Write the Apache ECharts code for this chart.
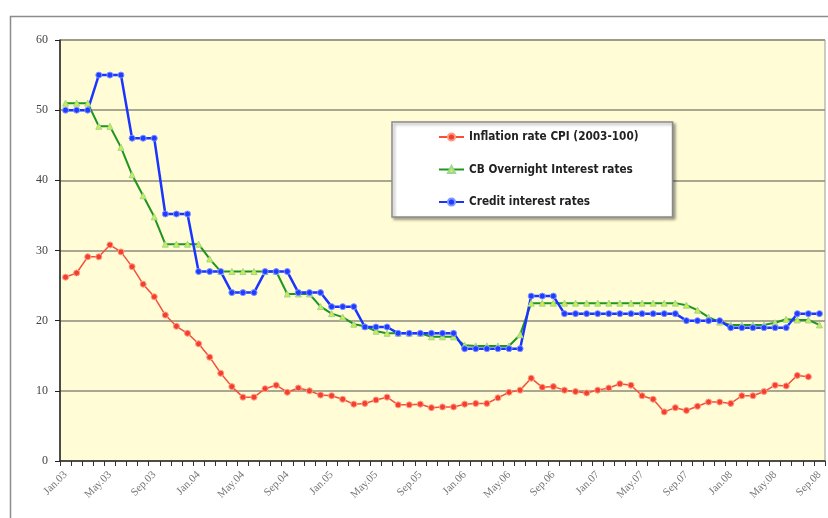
<!DOCTYPE html>
<html>
<head>
<meta charset="utf-8">
<script src="https://cdn.jsdelivr.net/npm/echarts@6/dist/echarts.min.js"></script>
<style>
  html, body { margin: 0; padding: 0; background: #ffffff; }
  #main { width: 828px; height: 518px; }
</style>
</head>
<body>
<div id="main"></div>
<script>
// months Jan 03 .. Sep 08
const monthNames = ["Jan", "Feb", "Mar", "Apr", "May", "Jun", "Jul", "Aug", "Sep", "Oct", "Nov", "Dec"];
const years = ["03", "04", "05", "06", "07", "08"];
const lastYearMonths = 9;

const inflationCpi = [
  26.2, 26.8, 29.1, 29.1, 30.8, 29.8, 27.7, 25.2, 23.4, 20.8,
  19.2, 18.2, 16.7, 14.8, 12.5, 10.6, 9.1, 9.1, 10.3, 10.8,
  9.8, 10.4, 10.0, 9.4, 9.3, 8.8, 8.1, 8.2, 8.7, 9.1,
  8.0, 8.0, 8.1, 7.6, 7.7, 7.7, 8.1, 8.2, 8.2, 9.0,
  9.8, 10.1, 11.8, 10.5, 10.6, 10.1, 9.9, 9.7, 10.1, 10.4,
  11.0, 10.8, 9.3, 8.8, 7.0, 7.6, 7.2, 7.8, 8.4, 8.4,
  8.2, 9.3, 9.3, 9.9, 10.8, 10.7, 12.2, 12.0, null
];
const cbOvernight = [
  51, 51, 51, 47.7, 47.7, 44.7, 40.8, 37.8, 34.8, 30.9,
  30.9, 30.9, 30.9, 28.8, 27, 27, 27, 27, 27, 27,
  23.8, 23.8, 23.8, 22, 21, 20.5, 19.5, 19.2, 18.5, 18.2,
  18.2, 18.2, 18.2, 17.7, 17.7, 17.7, 16.5, 16.4, 16.4, 16.4,
  16.4, 18, 22.5, 22.5, 22.5, 22.5, 22.5, 22.5, 22.5, 22.5,
  22.5, 22.5, 22.5, 22.5, 22.5, 22.5, 22.2, 21.5, 20.5, 19.8,
  19.4, 19.4, 19.4, 19.4, 19.7, 20.2, 20.1, 20.1, 19.4
];
const creditRates = [
  50, 50, 50, 55, 55, 55, 46, 46, 46, 35.2,
  35.2, 35.2, 27, 27, 27, 24, 24, 24, 27, 27,
  27, 24, 24, 24, 22, 22, 22, 19.1, 19.1, 19.1,
  18.2, 18.2, 18.2, 18.2, 18.2, 18.2, 16, 16, 16, 16,
  16, 16, 23.5, 23.5, 23.5, 21, 21, 21, 21, 21,
  21, 21, 21, 21, 21, 21, 20, 20, 20, 20,
  19, 19, 19, 19, 19, 19, 21, 21, 21
];

const categories = [];
years.forEach(function (y, yi) {
  const n = yi === years.length - 1 ? lastYearMonths : 12;
  for (let m = 0; m < n; m++) {
    categories.push(monthNames[m] + "." + y);
  }
});

const chart = echarts.init(document.getElementById("main"), null, { renderer: "canvas" });
chart.setOption({
  animation: false,
  backgroundColor: "#ffffff",
  graphic: [
    {
      type: "rect",
      left: 8,
      top: 14,
      shape: { width: 830, height: 520 },
      style: { fill: "none", stroke: "#8c8c8c", lineWidth: 1.5 },
      z: -1
    }
  ],
  grid: {
    left: 60,
    right: 3,
    top: 40,
    bottom: 57,
    show: true,
    backgroundColor: "#fffcd6",
    borderColor: "#9a9a9a",
    borderWidth: 1
  },
  legend: {
    orient: "vertical",
    left: 392,
    top: 122,
    padding: [9, 34, 9, 46],
    itemGap: 20.5,
    itemWidth: 25,
    itemHeight: 9,
    backgroundColor: "#ffffff",
    borderColor: "#8a8a8a",
    borderWidth: 1.5,
    shadowColor: "rgba(0,0,0,0.35)",
    shadowBlur: 3,
    shadowOffsetX: 2,
    shadowOffsetY: 2,
    textStyle: {
      fontFamily: "DejaVu Sans Condensed",
      fontWeight: "bold",
      fontSize: 11.7,
      color: "#222222"
    },
    data: ["Inflation rate CPI (2003-100)", "CB Overnight Interest rates", "Credit interest rates"]
  },
  xAxis: {
    type: "category",
    data: categories,
    boundaryGap: true,
    axisLine: { show: true, lineStyle: { color: "#333333", width: 1.5 } },
    axisTick: { show: true, interval: 0, length: 5, lineStyle: { color: "#333333" } },
    splitLine: { show: false },
    axisLabel: {
      interval: 3,
      rotate: 45,
      margin: 12,
      fontFamily: "Liberation Serif",
      fontSize: 11,
      color: "#777777"
    }
  },
  yAxis: {
    type: "value",
    min: 0,
    max: 60,
    interval: 10,
    axisLine: { show: true, lineStyle: { color: "#222222", width: 1.5 } },
    axisTick: { show: true, length: 5, lineStyle: { color: "#222222" } },
    splitLine: { show: true, lineStyle: { color: "#8c8a7a", width: 1.5 } },
    axisLabel: {
      margin: 12,
      fontFamily: "Liberation Serif",
      fontSize: 12,
      color: "#444444"
    }
  },
  series: [
    {
      name: "Inflation rate CPI (2003-100)",
      type: "line",
      data: inflationCpi,
      symbol: "circle",
      symbolSize: 6,
      showAllSymbol: true,
      itemStyle: { color: "#f4402a", borderColor: "#ff9a8a", borderWidth: 1 },
      lineStyle: { color: "#f4503a", width: 1.5 }
    },
    {
      name: "CB Overnight Interest rates",
      type: "line",
      data: cbOvernight,
      symbol: "triangle",
      symbolSize: 6,
      showAllSymbol: true,
      itemStyle: { color: "#d6ea40", borderColor: "#9ad89a", borderWidth: 1 },
      lineStyle: { color: "#1e961e", width: 2 }
    },
    {
      name: "Credit interest rates",
      type: "line",
      data: creditRates,
      symbol: "circle",
      symbolSize: 6,
      showAllSymbol: true,
      itemStyle: { color: "#1f3cff", borderColor: "#7f95ff", borderWidth: 1 },
      lineStyle: { color: "#1a35ff", width: 2.5 }
    }
  ]
});
</script>
</body>
</html>
